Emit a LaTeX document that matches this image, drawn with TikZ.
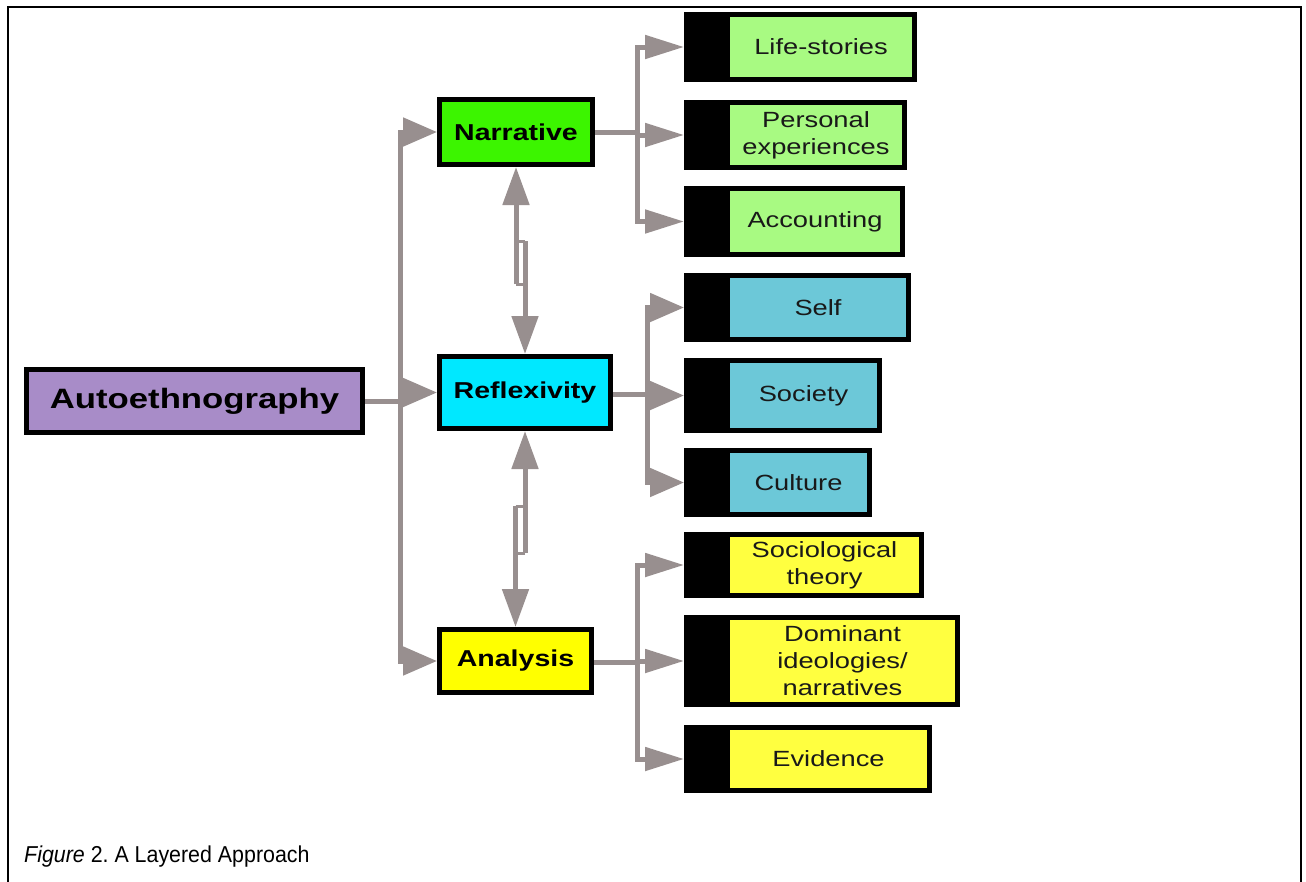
\documentclass[tikz,border=0pt]{standalone}
\usepackage{fontspec}
\newfontfamily\dfont{Liberation Sans}[FakeStretch=1.24]
\newfontfamily\capfont{Liberation Sans}[FakeStretch=0.93]
\usetikzlibrary{arrows.meta}
\definecolor{cgray}{RGB}{152,143,143}
\definecolor{cpurple}{RGB}{168,140,200}
\definecolor{cgreen}{RGB}{60,245,0}
\definecolor{ccyan}{RGB}{0,232,255}
\definecolor{cyellow}{RGB}{255,255,0}
\definecolor{lgreen}{RGB}{168,250,130}
\definecolor{lblue}{RGB}{108,200,216}
\definecolor{lyellow}{RGB}{255,255,64}
\newcommand\childbox[7]{%
  \node[outerbox, minimum width=#4pt, minimum height=#5pt] (#1) at (#2,#3) {};
  \node[innerbox, fill=#6, minimum width={(#4-51)*1pt}, minimum height={(#5-10)*1pt}] (#1-in) at (#2+#4-5,#3+5) {#7};
}
\frenchspacing
\begin{document}
\begin{tikzpicture}[x=1pt,y=-1pt,
  mainbox/.style={draw=black, line width=5pt, inner sep=0pt, font=\dfont\bfseries\fontsize{23}{27}\selectfont},
  outerbox/.style={fill=black, inner sep=0pt, outer sep=0pt, anchor=north west},
  innerbox/.style={inner sep=0pt, outer sep=0pt, anchor=north east, align=center, text=black!90, font=\dfont\fontsize{22}{27}\selectfont},
  conn/.style={draw=cgray, line width=5pt},
  arrA/.style={-{Triangle[length=34pt,width=28pt]}},
  arrB/.style={-{Triangle[length=39pt,width=23pt]}},
  arrV/.style={-{Triangle[length=38pt,width=26pt]}},
  jog/.style={draw=cgray, line width=3pt},
]
\useasboundingbox (0,0) rectangle (1306,881);
\fill[white] (0,0) rectangle (1306,881);
% frame
\draw[line width=2.5pt] (8,885) -- (8,7) -- (1301,7) -- (1301,885);

% main nodes
\node[mainbox, fill=cpurple, minimum width=336pt, minimum height=63pt, font=\dfont\bfseries\fontsize{28}{32}\selectfont] (auto) at (194.5,401) {Autoethnography};
\node[mainbox, fill=cgreen, minimum width=153pt, minimum height=65pt] (narr) at (516,132) {Narrative};
\node[mainbox, fill=ccyan, minimum width=171pt, minimum height=72pt] (refl) at (525,392.5) {Reflexivity};
\node[mainbox, fill=cyellow, minimum width=152pt, minimum height=63pt] (ana) at (515.5,661) {Analysis};

% child boxes
\childbox{ls}{684}{12}{233}{70}{lgreen}{Life-stories}
\childbox{pe}{684}{100}{223}{70}{lgreen}{Personal\\experiences}
\childbox{acc}{684}{186}{221}{71}{lgreen}{Accounting}
\childbox{self}{684}{273}{227}{69}{lblue}{Self}
\childbox{soc}{684}{358}{198}{75}{lblue}{Society}
\childbox{cul}{684}{448}{188}{69}{lblue}{Culture}
\childbox{st}{684}{532}{240}{66}{lyellow}{Sociological\\theory}
\childbox{dom}{684}{615}{276}{92}{lyellow}{Dominant\\ideologies/\\narratives}
\childbox{ev}{684}{725}{248}{68}{lyellow}{Evidence}

% left fan
\coordinate (lf) at (400,402);
\draw[conn] (auto.east) -- (auto.east -| lf);
\draw[conn, line cap=rect] (lf |- narr.west) -- (lf |- ana.west);
\draw[conn, arrA] (lf |- narr.west) -- (narr.west);
\draw[conn, arrA] (lf |- refl.west) -- (refl.west);
\draw[conn, arrA] (lf |- ana.west) -- (ana.west);

% narrative fan
\coordinate (nf) at (637,132);
\draw[conn] (narr.east) -- (nf);
\draw[conn, line cap=rect] (nf |- ls.west) -- (nf |- acc.west);
\draw[conn, arrB] (nf |- ls.west) -- (ls.west);
\draw[conn, arrB] (nf |- pe.west) -- (pe.west);
\draw[conn, arrB] (nf |- acc.west) -- (acc.west);

% reflexivity fan
\coordinate (rf) at (647,394);
\draw[conn] (refl.east |- rf) -- (rf);
\draw[conn, line cap=rect] (rf |- self.west) -- (rf |- cul.west);
\draw[conn, arrA] (rf |- self.west) -- (self.west);
\draw[conn, arrA] (rf |- soc.west) -- (soc.west);
\draw[conn, arrA] (rf |- cul.west) -- (cul.west);

% analysis fan
\coordinate (af) at (637,662);
\draw[conn] (ana.east |- af) -- (af);
\draw[conn, line cap=rect] (af |- st.west) -- (af |- ev.west);
\draw[conn, arrB] (af |- st.west) -- (st.west);
\draw[conn, arrB] (af |- dom.west) -- (dom.west);
\draw[conn, arrB] (af |- ev.west) -- (ev.west);

% double arrows with jogs
\coordinate (j1a) at (516,284);
\coordinate (j1b) at (525,241);
\draw[conn, arrV] (j1a) -- (narr.south);
\draw[conn, arrV] (j1b) -- (refl.north);
\draw[jog] (j1a) -- (j1a -| j1b);
\draw[jog] (j1b) -- (j1b -| j1a);

\coordinate (j2a) at (525,553);
\coordinate (j2b) at (515.5,506);
\draw[conn, arrV] (j2a) -- (refl.south);
\draw[conn, arrV] (j2b) -- (ana.north);
\draw[jog] (j2a) -- (j2a -| j2b);
\draw[jog] (j2b) -- (j2b -| j2a);

% caption
\node[anchor=base west, inner sep=0pt, font=\capfont\fontsize{23}{27}\selectfont] (cap) at (24,862) {\textit{Figure} 2. A Layered Approach};
\end{tikzpicture}
\end{document}
